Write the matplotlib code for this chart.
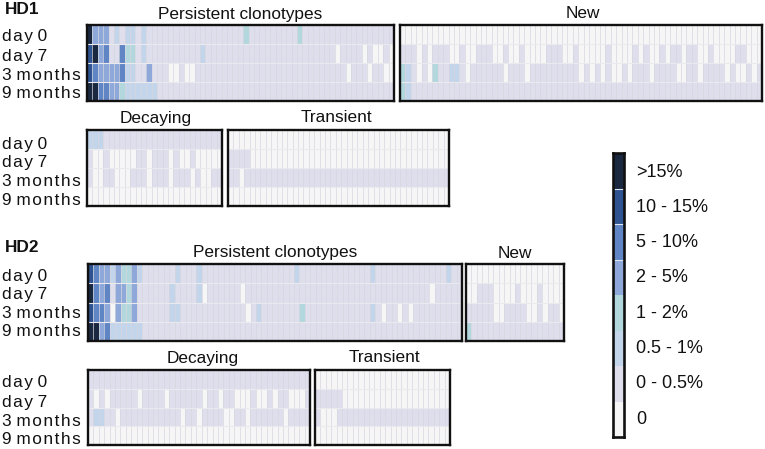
import numpy as np
import matplotlib
matplotlib.use('Agg')
import matplotlib.pyplot as plt
from matplotlib.colors import ListedColormap, BoundaryNorm

plt.rcParams['font.family'] = ['Liberation Sans', 'DejaVu Sans']

W, H = 765, 449

# 0 = white, 1 = 0-0.5%, ... 7 = >15%
level_colors = ['#f6f6f6', '#dfdeed', '#c3d5ea', '#b2d8de', '#8fa8da', '#6085c5', '#2f5391', '#1a2840']
legend_labels = ['0', '0 - 0.5%', '0.5 - 1%', '1 - 2%', '2 - 5%', '5 - 10%', '10 - 15%', '>15%']
time_labels = ['d\u200aa\u200ay 0', 'd\u200aa\u200ay 7', '3 m\u200ao\u200an\u200at\u200ah\u200as', '9 m\u200ao\u200an\u200at\u200ah\u200as']


def cells(n, base, head='', white=(), other=None):
    row = [base] * n
    for i, c in enumerate(head):
        row[i] = int(c)
    for i in white:
        row[i] = 0
    for i, v in (other or {}).items():
        row[i] = v
    return row


# HD1
hd1_persistent = [
    cells(57, 1, '74441212212', other={29: 3, 39: 3}),
    cells(57, 1, '67451153312', white=[46, 51, 53, 54, 56], other={21: 2}),
    cells(57, 1, '65444452211' + '4', white=[15, 16, 18, 19, 48, 52, 55, 56]),
    cells(57, 1, '7755443222222'),
]
hd1_new = [
    cells(67, 0),
    cells(67, 1, white=[3, 5, 9, 10, 12, 13, 17, 18, 20, 21, 23, 24, 25, 26, 30, 31, 33, 34, 35, 36, 37,
                        39, 40, 41, 42, 44, 46, 47, 49, 52, 55, 56, 58, 59, 60, 61, 64, 65, 66]),
    cells(67, 1, '32', white=[3, 5, 12, 19, 23, 33, 35, 37, 39, 40, 42, 46, 51, 52, 55, 60, 62, 63, 65],
          other={6: 3, 9: 2, 10: 2}),
    cells(67, 1, '32'),
]
hd1_decaying = [
    cells(25, 1, '222'),
    cells(25, 1, white=[1, 2, 4, 5, 6, 7, 8, 11, 15, 17, 18, 20, 21, 22, 23, 24]),
    cells(25, 1, white=[1, 2, 5, 6, 7, 11, 15, 19, 21, 22]),
    cells(25, 0),
]
hd1_transient = [
    cells(41, 0),
    cells(41, 0, '1111'),
    cells(41, 1, white=[2]),
    cells(41, 0),
]

# HD2
hd2_persistent = [
    cells(69, 1, '6544243342', other={16: 2, 20: 2, 38: 2, 52: 2, 66: 2}),
    cells(69, 1, '7545144341', white=[21, 28, 63], other={15: 2, 20: 2}),
    cells(69, 1, '6554043341', white=[29, 54, 57, 59], other={15: 2, 16: 2, 31: 2, 39: 3, 52: 2}),
    cells(69, 1, '7745222222'),
]
hd2_new = [
    cells(18, 0),
    cells(18, 0, '00111', other={9: 1, 13: 1}),
    cells(18, 1, white=[5, 6, 11, 12, 14, 17]),
    cells(18, 1, '3'),
]
hd2_decaying = [
    cells(41, 1),
    cells(41, 1, white=[1, 3, 9, 14, 21, 24, 27, 28, 29, 31, 32, 34, 37, 38, 39]),
    cells(41, 1, '122', white=[5, 17, 20, 25, 26, 29, 36]),
    cells(41, 0),
]
hd2_transient = [
    cells(25, 0),
    cells(25, 0, '11111'),
    cells(25, 1, white=[1, 2, 3]),
    cells(25, 0),
]

cmap = ListedColormap(level_colors)
norm = BoundaryNorm(np.arange(-0.5, 8.5), cmap.N)

fig = plt.figure(figsize=(W / 100, H / 100), dpi=100)


def px_axes(x0, y0, x1, y1):
    # pixel box, y measured from the top
    return fig.add_axes([x0 / W, 1 - y1 / H, (x1 - x0) / W, (y1 - y0) / H])


def px_text(x, y, s, **kw):
    fig.text(x / W, 1 - y / H, s, **kw)


def panel(data, box, title, title_x, title_y):
    ax = px_axes(*box)
    arr = np.array(data)
    ax.pcolormesh(arr, cmap=cmap, norm=norm)
    ax.vlines(np.arange(1, arr.shape[1]), 0, arr.shape[0], color='#d6d6de', linewidth=0.5)
    ax.hlines(np.arange(1, arr.shape[0]), 0, arr.shape[1], color='#e9e9ee', linewidth=0.8)
    ax.invert_yaxis()
    ax.set_xticks([])
    ax.set_yticks([])
    for s in ax.spines.values():
        s.set_linewidth(1.7)
        s.set_color('#111111')
    px_text(title_x, title_y, title, fontsize=12.4, ha='center', va='center', color='#111111')


def row_labels(ys):
    for y, lab in zip(ys, time_labels):
        px_text(2, y, lab, fontsize=12.4, ha='left', va='center', color='#111111')


panel(hd1_persistent, (87, 25, 394, 101), 'Persistent clonotypes', 240, 14)
panel(hd1_new, (400, 25, 762, 101), 'New', 583, 14)
panel(hd1_decaying, (87, 130, 222, 206), 'Decaying', 156, 118)
panel(hd1_transient, (228, 130, 449, 206), 'Transient', 336, 118)
panel(hd2_persistent, (88, 264, 462, 341), 'Persistent clonotypes', 275, 253)
panel(hd2_new, (466, 264, 564, 341), 'New', 515, 253)
panel(hd2_decaying, (88, 370, 310, 445), 'Decaying', 203, 358)
panel(hd2_transient, (315, 370, 450, 445), 'Transient', 384, 358)

row_labels([37, 56, 75, 94])
row_labels([144, 163, 181, 200])
row_labels([276, 295, 313, 332])
row_labels([383, 402, 421, 439])

px_text(5, 9, 'HD1', fontsize=12.4, fontweight='bold', ha='left', va='center', color='#111111')
px_text(5, 247, 'HD2', fontsize=12.4, fontweight='bold', ha='left', va='center', color='#111111')

# legend bar, top level first
cax = px_axes(613, 153, 624, 437)
levels = np.arange(len(level_colors))[::-1].reshape(-1, 1)
cax.pcolormesh(levels, cmap=cmap, norm=norm)
cax.hlines([1, 2, 3], 0, 1, color='#dfe6f2', linewidth=0.8)
cax.invert_yaxis()
cax.set_xticks([])
cax.set_yticks([])
for s in cax.spines.values():
    s.set_linewidth(1.9)
    s.set_color('#111111')
for i, lab in enumerate(legend_labels[::-1]):
    px_text(636, 172 + i * 35.3, lab, fontsize=13, ha='left', va='center', color='#111111')

fig.savefig('out.png', dpi=100)
